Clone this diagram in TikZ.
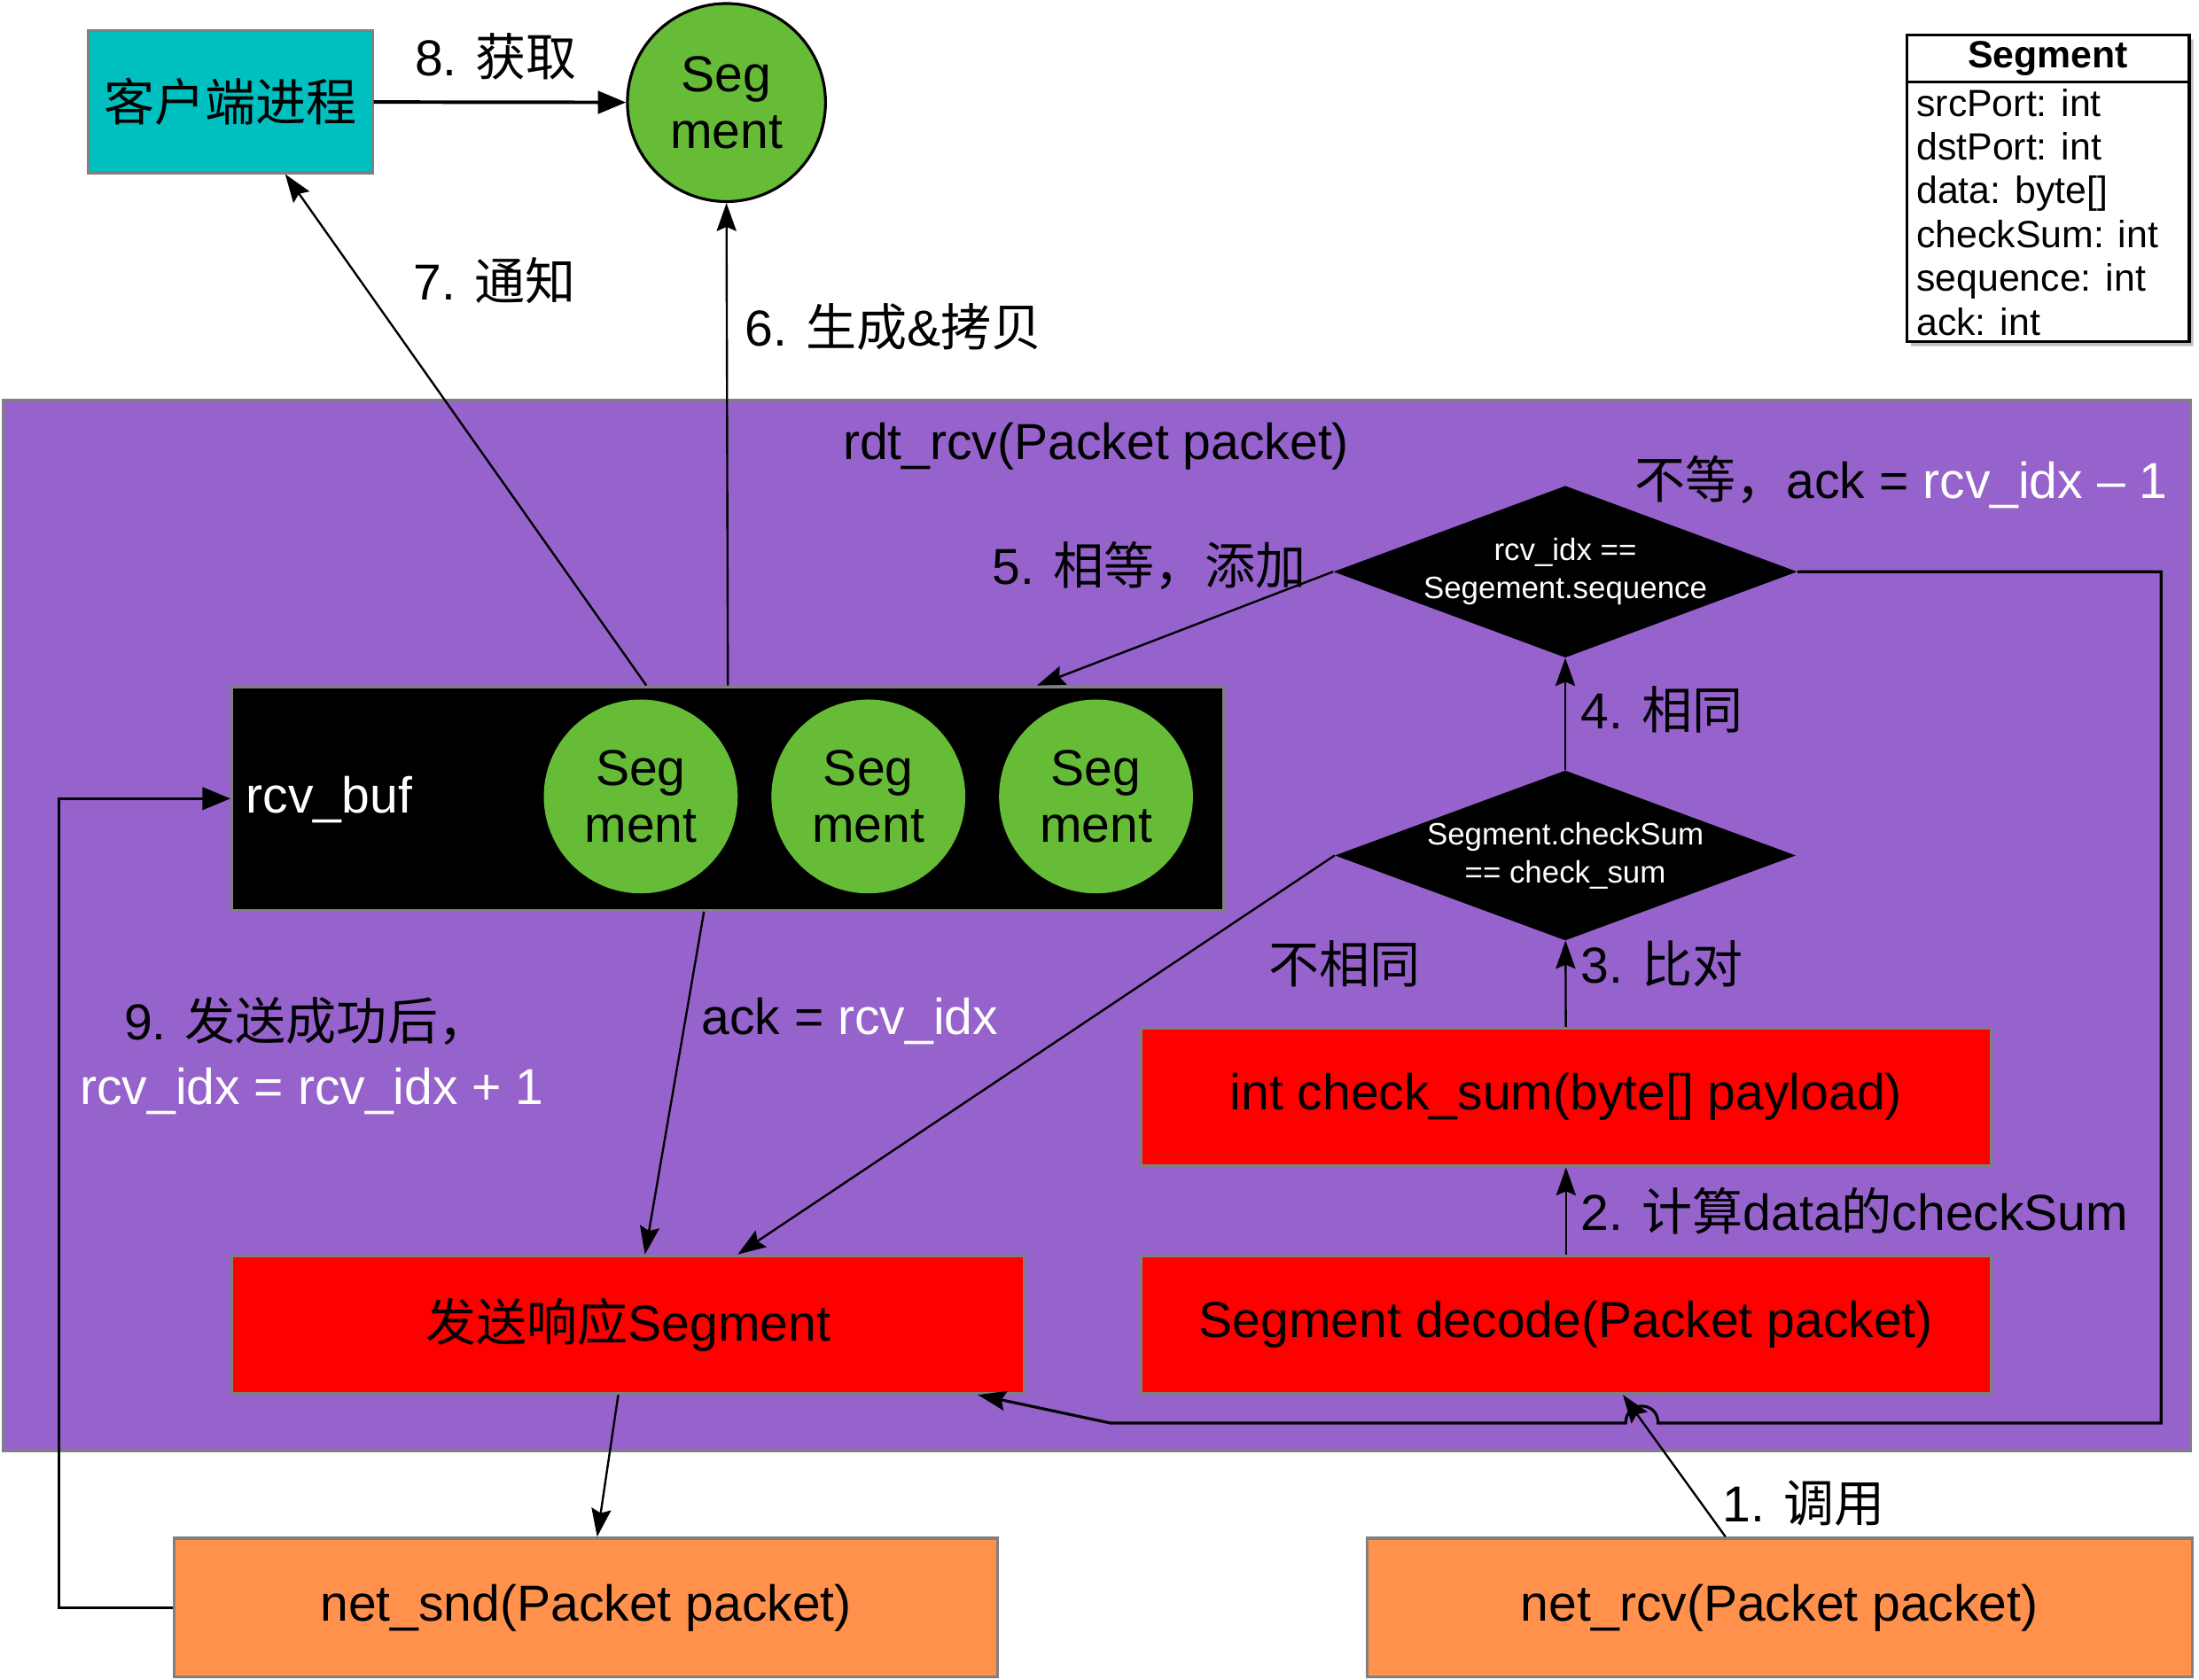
\documentclass[tikz,border=0pt]{standalone}
\usepackage{fontspec}
\setmainfont{Liberation Sans}
\newfontfamily\cjkfont{Noto Sans CJK SC}
\usetikzlibrary{arrows.meta}
\usetikzlibrary{positioning}
\usetikzlibrary{shapes.geometric}
\usetikzlibrary{shapes.multipart}
\usetikzlibrary{shadows}
\definecolor{clientcyan}{RGB}{0,191,191}
\definecolor{seggreen}{RGB}{102,187,55}
\definecolor{rdtpurple}{RGB}{150,98,204}
\definecolor{boxorange}{RGB}{255,145,77}
\definecolor{boxred}{RGB}{255,0,0}
\newcommand{\zhtext}[1]{{\cjkfont #1}}
\newcommand{\whitetxt}[1]{\textcolor{white}{#1}}
\newcommand{\mainsize}{\fontsize{36}{40}\selectfont}
\newcommand{\condsize}{\fontsize{22}{27}\selectfont}
\newcommand{\tablesize}{\fontsize{27}{31.2}\selectfont}

\begin{document}
\begin{tikzpicture}[x=1pt,y=-1pt,every node/.append style={font=\mainsize}]
	\tikzset{
		funcbox/.style={draw=gray,line width=2pt,minimum width=605pt,minimum height=98pt,inner sep=0},
		segball/.style={circle,fill=seggreen,minimum size=138pt,inner sep=0,align=center},
		condition/.style={diamond,fill=black,text=white,minimum width=328pt,minimum height=121pt,aspect=2.7,inner sep=0,align=center,font=\condsize},
		%
		flow/.style={line width=1.5pt,-{Stealth[length=20pt,width=14pt,inset=3pt]}},
		bigflow/.style={line width=2.5pt,-{Triangle[length=20pt,width=16pt]}},
		lbl/.style={inner sep=0}
	}
	
	\useasboundingbox (0,0) rectangle (1565,1195.4);
	
	% rdt_rcv area
	\node[draw=gray,line width=2pt,fill=rdtpurple,minimum width=1557pt,minimum height=748pt,inner sep=0] (rdt) at (780.5,659) {};
	\node[lbl] (rdtlbl) at (780,318) {rdt\_rcv(Packet packet)};
	
	% receive buffer
	\node[draw=gray,line width=2pt,fill=black,minimum width=706pt,minimum height=159pt] (rcvbuf) at (518,568.5) {};
	\node[lbl,text=white,anchor=west] (rcvbuflbl) at (175,569) {rcv\_buf};
	\foreach \i/\x in {1/456,2/618,3/780}
		\node[segball] (buf\i) at (\x,567) {Seg\\ment};
	
	% checks
	\node[condition] (seqtest) at (1114,407) {rcv\_idx ==\\Segement.sequence};
	\node[condition] (sumtest) at (1114,609) {Segment.checkSum\\== check\_sum};
	
	\node[funcbox,fill=boxred] (checksum) at (1114.5,781) {int check\_sum(byte[] payload)};
	\node[funcbox,fill=boxred] (decode) at (1114.5,943) {Segment decode(Packet packet)};
	\node[funcbox,fill=boxred,minimum width=564pt] (reply) at (447,943) {\zhtext{发送响应}Segment};
	
	% outside
	\node[funcbox,fill=boxorange,minimum width=586pt,minimum height=99pt] (netsnd) at (417,1144.5) {net\_snd(Packet packet)};
	\node[funcbox,fill=boxorange,minimum width=587pt,minimum height=99pt] (netrcv) at (1266.5,1144.5) {net\_rcv(Packet packet)};
	\node[funcbox,fill=clientcyan,minimum width=202pt,minimum height=101pt] (client) at (164,72.5) {\zhtext{客户端进程}};
	\node[segball,draw=black,line width=2pt,minimum size=141pt] (fetched) at (517,73) {Seg\\ment};
	
	\node[rectangle split,rectangle split parts=2,rectangle split part align={center,left},
		draw,line width=2pt,fill=white,minimum width=201pt,inner xsep=7pt,inner ysep=3.5pt,
		font=\tablesize,align=left,anchor=north west,
		drop shadow={shadow xshift=3pt,shadow yshift=-3pt,fill=gray}] (segdef) at (1356,24)
		{\textbf{Segment}\nodepart{two}srcPort: int\\dstPort: int\\data: byte[]\\checkSum: int\\sequence: int\\ack: int};
	
	% flow
	\draw[flow] ([xshift=-38.5pt]netrcv.north) -- ([xshift=40.5pt]decode.south);
	\draw[flow] (decode) -- (checksum);
	\draw[flow] (checksum) -- (sumtest);
	\draw[flow] (sumtest) -- (seqtest);
	\draw[flow] (seqtest.west) -- ([xshift=220pt]rcvbuf.north);
	\draw[flow] (rcvbuf.north) -- (fetched.south);
	\draw[flow] ([xshift=-58pt]rcvbuf.north) -- ([xshift=39pt]client.south);
	\draw[bigflow] (client) -- (fetched);
	\draw[flow] (sumtest.west) -- ([xshift=78pt]reply.north);
	\draw[flow] ([xshift=-17pt]rcvbuf.south) -- ([xshift=12pt]reply.north);
	\draw[flow] ([xshift=-7pt]reply.south) -- ([xshift=8pt]netsnd.north);
	\draw[bigflow,line width=2pt] (netsnd.west) -- ++(-81,0) |- (rcvbuf.west);
	
	\coordinate (neqturn) at (1538,1013);
	\coordinate (hopR) at (1180,1013);
	\coordinate (hopL) at (1157,1013);
	\coordinate (neqbend) at (790,1013);
	\draw[flow,line width=2pt] (seqtest.east) -| (neqturn) -- (hopR) .. controls +(0,-16) and +(0,-16) .. (hopL) -- (neqbend) -- ([xshift=-34pt]reply.south east);
	
	% labels
	\node[lbl] (getlbl) at (353,40) {8. \zhtext{获取}};
	\node[lbl] (notifylbl) at (352,200) {7. \zhtext{通知}};
	\node[lbl,anchor=west] (copylbl) at (530,233) {6. \zhtext{生成}\&\zhtext{拷贝}};
	\node[lbl] (eqlbl) at (818,403) {5. \zhtext{相等，添加}};
	\node[lbl] (neqlbl) at (1353,343) {\zhtext{不等，}ack = \whitetxt{rcv\_idx – 1}};
	\node[lbl,anchor=west] (samelbl) at (1125,505) {4. \zhtext{相同}};
	\node[lbl] (difflbl) at (957,686) {\zhtext{不相同}};
	\node[lbl,anchor=west] (cmplbl) at (1125,686) {3. \zhtext{比对}};
	\node[lbl,anchor=west] (calclbl) at (1125,862) {2. \zhtext{计算}data\zhtext{的}checkSum};
	\node[lbl,anchor=west] (acklbl) at (499,727) {ack = \whitetxt{rcv\_idx}};
	\node[lbl] (sentlbl) at (218,727) {9. \zhtext{发送成功后，}};
	\node[lbl,text=white] (incrlbl) at (222,777) {rcv\_idx = rcv\_idx + 1};
	\node[lbl,anchor=west] (calllbl) at (1226,1070) {1. \zhtext{调用}};
\end{tikzpicture}
\end{document}
